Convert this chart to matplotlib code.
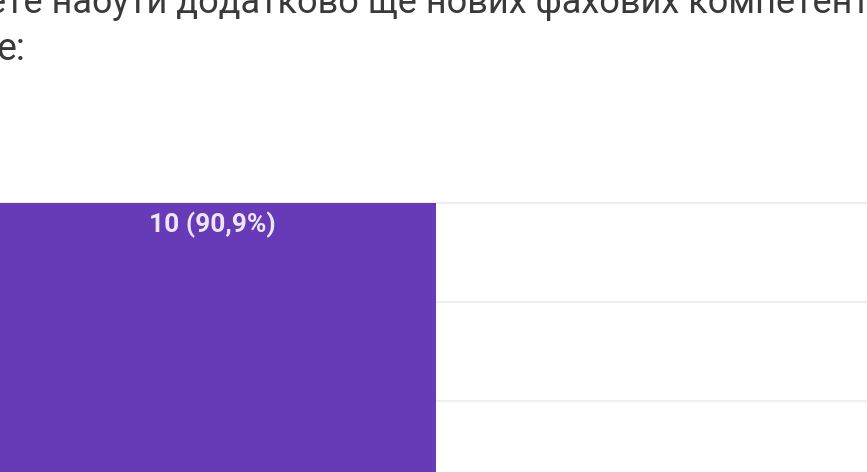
import matplotlib.pyplot as plt

plt.rcParams['font.family'] = ['Roboto', 'DejaVu Sans']

# дані: 11 відповідей
categories = ['Так', 'Ні']
counts = [10, 1]
total = sum(counts)
y_ticks = [0, 2.5, 5, 7.5, 10]

title_line1 = 'ете набути додатково ще нових фахових компетентностей'
title_line2 = 'е:'

fig = plt.figure(figsize=(8.67, 4.72), dpi=100)
W, H = 867, 472

# вісь більша за видиму частину (скріншот обрізаний)
left, right, top, bottom = -68, 1052, 202, 598
ax = fig.add_axes([left / W, (H - bottom) / H, (right - left) / W, (bottom - top) / H])

x = range(len(categories))
bars = ax.bar(x, counts, width=0.8, color='#673ab7', zorder=3)
ax.set_xlim(-0.5, len(categories) - 0.5)
ax.set_ylim(0, 10.03)
ax.set_yticks(y_ticks)
ax.yaxis.grid(True, color='#eeeeee', linewidth=1.6, zorder=0)
ax.tick_params(left=False, bottom=False, labelleft=False, labelbottom=False)
for s in ax.spines.values():
    s.set_visible(False)

for i, c in enumerate(counts):
    lab = f'{c} ({c / total * 100:.1f}%)'.replace('.', ',')
    ax.annotate(lab, xy=(i, c), xytext=(0, -6), textcoords='offset points',
                ha='center', va='top', color='#ece6f5', fontsize=19,
                fontweight='bold', zorder=4)

fig.text(-13 / W, (H - 13) / H, title_line1, fontsize=26, color='#3a3a3a',
         ha='left', va='baseline')
fig.text(-4 / W, (H - 60) / H, title_line2, fontsize=27, color='#3a3a3a',
         ha='left', va='baseline')

fig.savefig('out.png', dpi=100)
